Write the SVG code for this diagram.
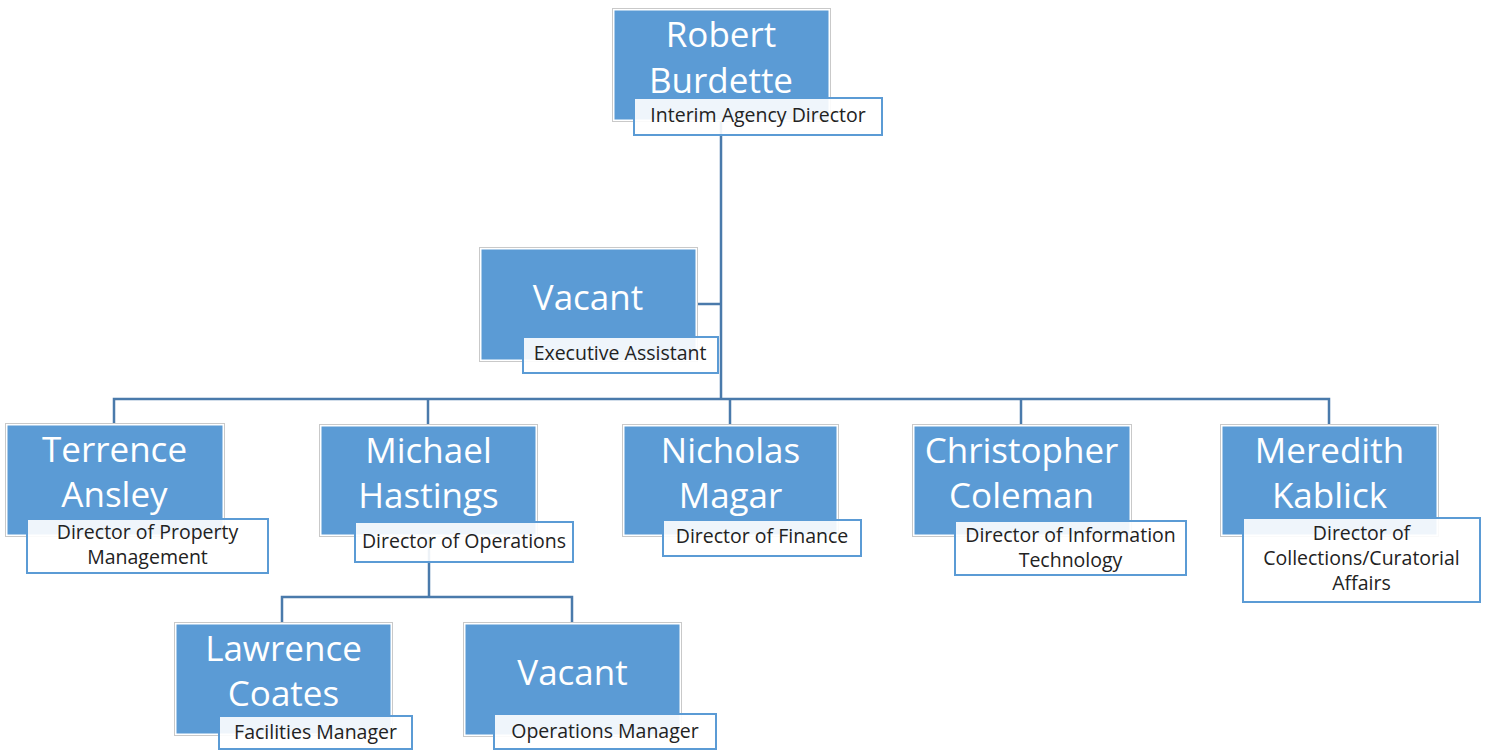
<svg xmlns="http://www.w3.org/2000/svg" width="1489" height="751" viewBox="0 0 1489 751">
  <style>
    .frame { fill: #ffffff; stroke: #c9c9c9; stroke-width: 1; }
    .fill { fill: #5b9bd5; }
    .name { font-family: "Open Sans", "Liberation Sans", sans-serif; font-size: 35px; fill: #ffffff; text-anchor: middle; }
    .tag { fill: #ffffff; fill-opacity: 0.9; stroke: #5b9bd5; stroke-width: 2; }
    .role { font-family: "Open Sans", "Liberation Sans", sans-serif; font-size: 19.5px; fill: #222222; text-anchor: middle; }
    .link { fill: none; stroke: #4a7aab; stroke-width: 2.5; }
  </style>

  <rect width="1489" height="751" fill="#ffffff"/>

  <g id="connectors">
    <path class="link" d="M721 120 V399"/>
    <path class="link" d="M697 304 H721"/>
    <path class="link" d="M114 423 V399 H1329 V424"/>
    <path class="link" d="M428 399 V424"/>
    <path class="link" d="M730 399 V424"/>
    <path class="link" d="M1021 399 V424"/>
    <path class="link" d="M429 537 V597"/>
    <path class="link" d="M282 622 V597 H572 V622"/>
  </g>

  <g id="robert-burdette">
    <rect class="frame" x="612.5" y="8.5" width="218" height="113"/>
    <rect class="fill" x="614.5" y="10.5" width="214" height="109"/>
    <text class="name" x="721" y="47">Robert</text>
    <text class="name" x="721" y="93">Burdette</text>
    <rect class="tag" x="634" y="98" width="248" height="37"/>
    <text class="role" x="758" y="122">Interim  Agency Director</text>
  </g>

  <g id="executive-assistant">
    <rect class="frame" x="479.5" y="247.5" width="218" height="114"/>
    <rect class="fill" x="481.5" y="249.5" width="214" height="110"/>
    <text class="name" x="588" y="310">Vacant</text>
    <rect class="tag" x="523" y="337" width="195" height="36"/>
    <text class="role" x="620" y="360">Executive Assistant</text>
  </g>

  <g id="terrence-ansley">
    <rect class="frame" x="5.5" y="423.5" width="219" height="113"/>
    <rect class="fill" x="7.5" y="425.5" width="215" height="109"/>
    <text class="name" x="114.5" y="462">Terrence</text>
    <text class="name" x="114.5" y="507">Ansley</text>
    <rect class="tag" x="27" y="519" width="241" height="54"/>
    <text class="role" x="147.5" y="539">Director of Property</text>
    <text class="role" x="147.5" y="564">Management</text>
  </g>

  <g id="michael-hastings">
    <rect class="frame" x="319.5" y="424.5" width="218" height="112"/>
    <rect class="fill" x="321.5" y="426.5" width="214" height="108"/>
    <text class="name" x="428.5" y="463">Michael</text>
    <text class="name" x="428.5" y="508">Hastings</text>
    <rect class="tag" x="355" y="522" width="218" height="40"/>
    <text class="role" x="464" y="548">Director of Operations</text>
  </g>

  <g id="nicholas-magar">
    <rect class="frame" x="622.5" y="424.5" width="216" height="112"/>
    <rect class="fill" x="624.5" y="426.5" width="212" height="108"/>
    <text class="name" x="730.5" y="463">Nicholas</text>
    <text class="name" x="730.5" y="508">Magar</text>
    <rect class="tag" x="663" y="520" width="198" height="36"/>
    <text class="role" x="762" y="543">Director of Finance</text>
  </g>

  <g id="christopher-coleman">
    <rect class="frame" x="912.5" y="424.5" width="219" height="112"/>
    <rect class="fill" x="914.5" y="426.5" width="215" height="108"/>
    <text class="name" x="1021.5" y="463">Christopher</text>
    <text class="name" x="1021.5" y="508">Coleman</text>
    <rect class="tag" x="955" y="521" width="231" height="54"/>
    <text class="role" x="1070.5" y="542">Director of Information</text>
    <text class="role" x="1070.5" y="567">Technology</text>
  </g>

  <g id="meredith-kablick">
    <rect class="frame" x="1220.5" y="424.5" width="218" height="112"/>
    <rect class="fill" x="1222.5" y="426.5" width="214" height="108"/>
    <text class="name" x="1329.5" y="463">Meredith</text>
    <text class="name" x="1329.5" y="508">Kablick</text>
    <rect class="tag" x="1243" y="518" width="237" height="84"/>
    <text class="role" x="1361.5" y="540">Director of</text>
    <text class="role" x="1361.5" y="565">Collections/Curatorial</text>
    <text class="role" x="1361.5" y="590">Affairs</text>
  </g>

  <g id="lawrence-coates">
    <rect class="frame" x="174.5" y="622.5" width="218" height="113"/>
    <rect class="fill" x="176.5" y="624.5" width="214" height="109"/>
    <text class="name" x="283.5" y="661">Lawrence</text>
    <text class="name" x="283.5" y="706">Coates</text>
    <rect class="tag" x="219" y="716" width="193" height="33"/>
    <text class="role" x="315.5" y="739">Facilities Manager</text>
  </g>

  <g id="operations-manager">
    <rect class="frame" x="463.5" y="622.5" width="218" height="114"/>
    <rect class="fill" x="465.5" y="624.5" width="214" height="110"/>
    <text class="name" x="572.5" y="685">Vacant</text>
    <rect class="tag" x="494" y="714" width="222" height="35"/>
    <text class="role" x="605" y="738">Operations Manager</text>
  </g>
</svg>
